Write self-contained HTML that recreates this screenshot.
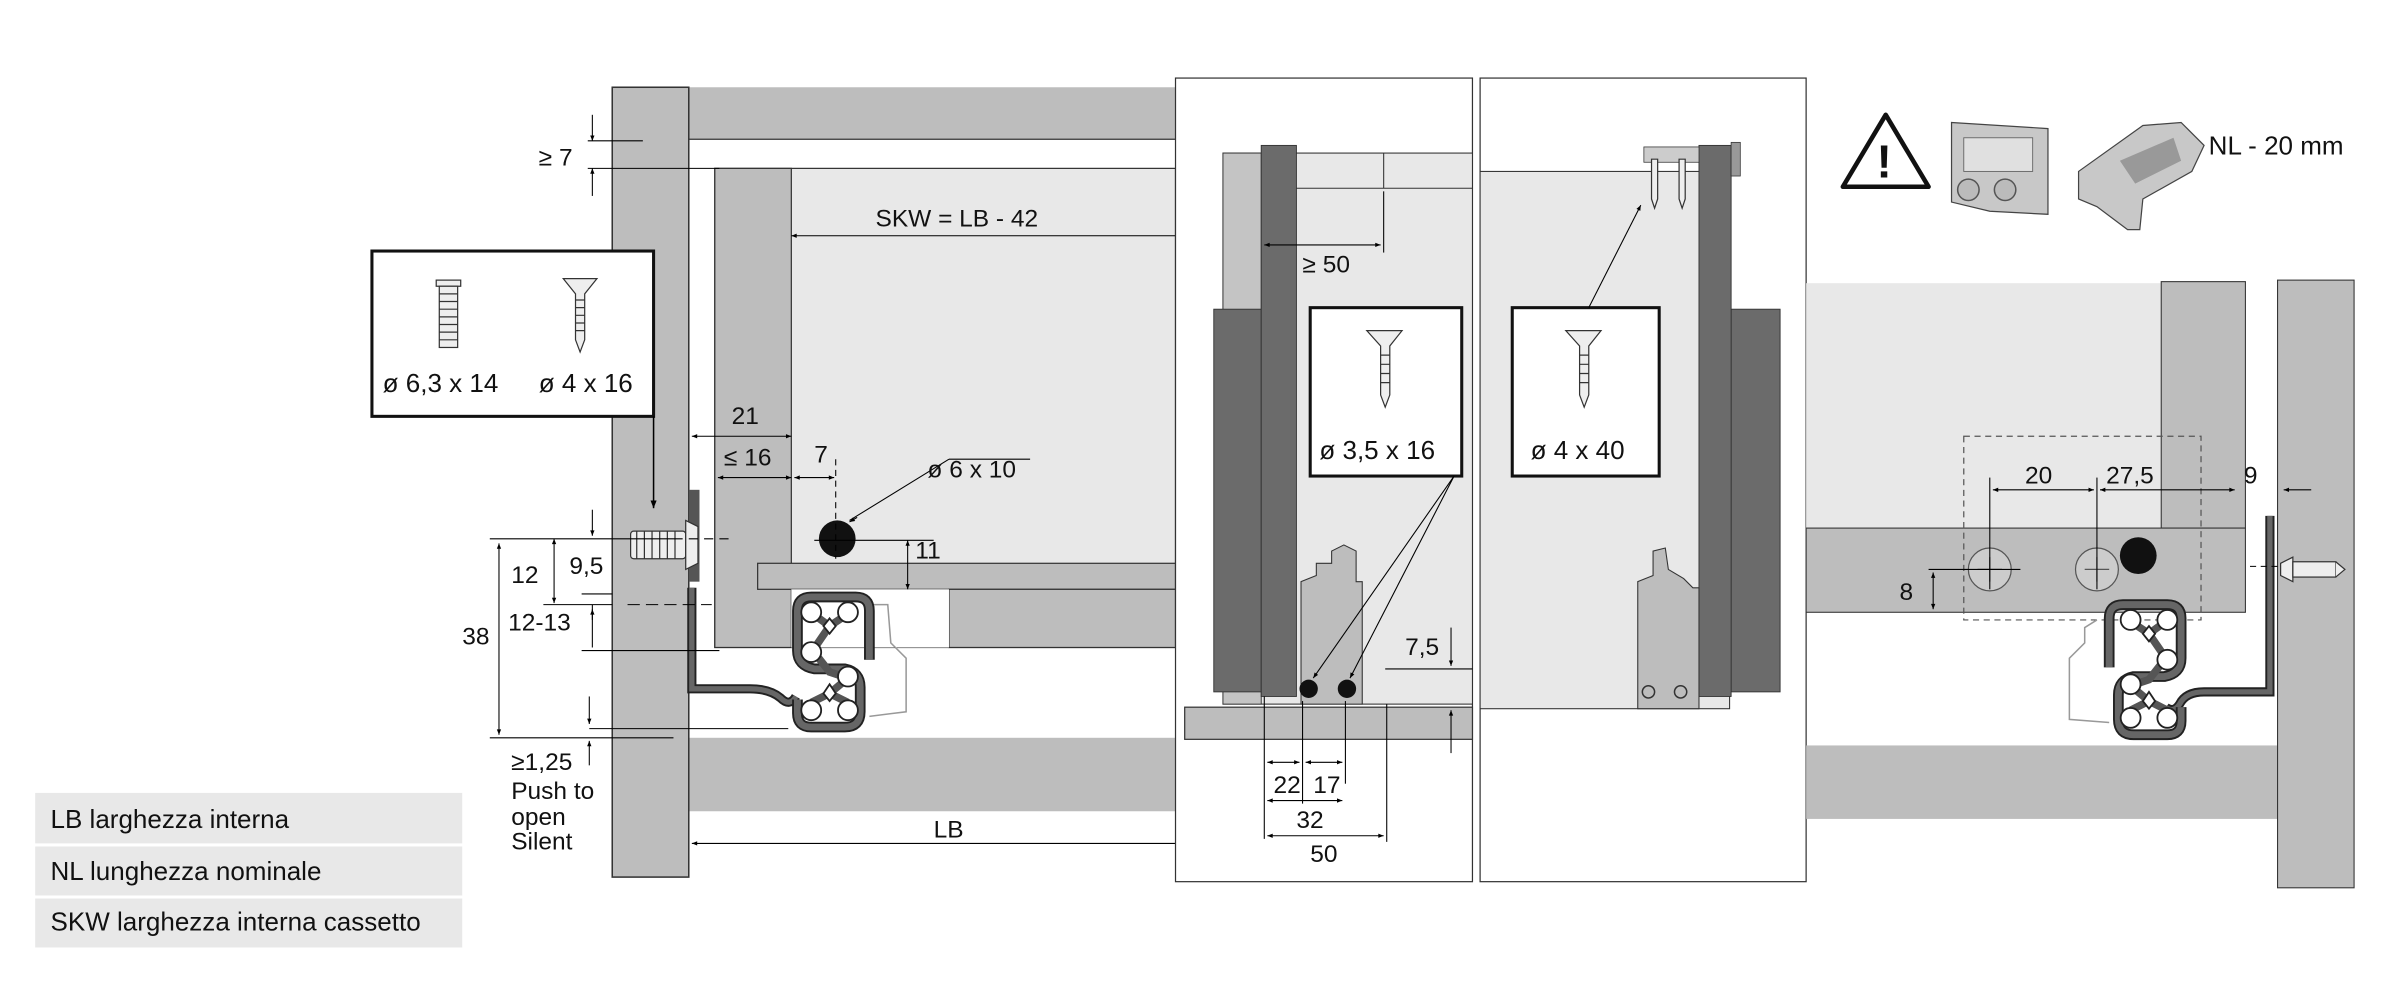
<!DOCTYPE html>
<html><head><meta charset="utf-8"><style>
html,body{margin:0;padding:0;background:#fff;width:2400px;height:1000px;overflow:hidden}
svg{display:block}
text{font-family:"Liberation Sans Narrow","Liberation Sans",sans-serif;fill:#111}
</style></head><body>
<svg width="2400" height="1000" viewBox="0 0 1568 653.3" preserveAspectRatio="none" xmlns="http://www.w3.org/2000/svg">
<defs>
<marker id="a" viewBox="0 0 10 10" refX="10" refY="5" markerWidth="7" markerHeight="5" orient="auto-start-reverse"><path d="M0,1 L10,5 L0,9 z" fill="#000"/></marker>
<g id="prof">
 <path d="M50,44 L50,12 Q50,3 41,3 L12,3 Q3,3 3,12 L3,38 Q3,48 14,50 L34,50 Q44,52 44,62 L44,78 Q44,88 34,88 L12,88 Q3,88 3,79 L3,70" fill="none" stroke="#222" stroke-width="7"/>
 <path d="M50,44 L50,12 Q50,3 41,3 L12,3 Q3,3 3,12 L3,38 Q3,48 14,50 L34,50 Q44,52 44,62 L44,78 Q44,88 34,88 L12,88 Q3,88 3,79 L3,70" fill="none" stroke="#666" stroke-width="4.5"/>
 <path d="M13,14 L24,22 L36,14 M24,22 L13,38 L24,52 L36,56 L24,66 L12,72 M24,66 L36,72" fill="none" stroke="#555" stroke-width="5"/>
 <g fill="#fff" stroke="#222" stroke-width="1.2">
  <circle cx="12" cy="13" r="6.5"/><circle cx="36" cy="13" r="6.5"/><circle cx="12" cy="39" r="6.5"/><circle cx="36" cy="55" r="6.5"/><circle cx="12" cy="77" r="6.5"/><circle cx="36" cy="77" r="6.5"/>
  <path d="M24,17 L28,22 L24,27 L20,22 z"/><path d="M24,60 L28,66 L24,71 L20,66 z"/>
 </g>
</g>
</defs>

<!-- ===== LEFT SCENE ===== -->
<rect x="450" y="57" width="318" height="34" fill="#bdbdbd"/>
<line x1="450" y1="91" x2="768" y2="91" stroke="#333" stroke-width="0.8"/>
<rect x="467" y="110" width="301" height="313" fill="#e8e8e8" stroke="#333" stroke-width="0.8"/>
<rect x="467" y="110" width="50" height="313" fill="#bdbdbd" stroke="#333" stroke-width="0.8"/>
<rect x="495" y="368" width="273" height="17" fill="#bdbdbd" stroke="#333" stroke-width="0.8"/>
<rect x="620" y="385" width="148" height="38" fill="#bdbdbd" stroke="#333" stroke-width="0.8"/>
<rect x="517" y="385" width="103" height="38" fill="#fff"/>
<rect x="450" y="482" width="318" height="48" fill="#bdbdbd"/>
<rect x="400" y="57" width="50" height="516" fill="#bdbdbd" stroke="#333" stroke-width="1"/>
<!-- runner left -->
<path d="M452,384 L452,450 L490,450 Q503,450 510,456 Q516,462 520,455" fill="none" stroke="#222" stroke-width="6"/>
<path d="M452,384 L452,450 L490,450 Q503,450 510,456 Q516,462 520,455" fill="none" stroke="#666" stroke-width="3.5"/>
<rect x="450" y="320" width="7" height="60" fill="#555"/>
<path d="M570,395 L580,395 L582,420 L592,430 L592,465 L568,468" fill="none" stroke="#999" stroke-width="1"/>
<use href="#prof" transform="translate(518,387)"/>
<!-- screw horizontal -->
<g stroke="#333" stroke-width="0.8" fill="#eee">
<rect x="412" y="347" width="36" height="18" rx="2"/>
<path d="M448,340 L456,344 L456,368 L448,372 z"/>
<path d="M416,347 L416,365 M421,347 L421,365 M426,347 L426,365 M431,347 L431,365 M436,347 L436,365 M441,347 L441,365" fill="none"/>
</g>
<circle cx="547" cy="352" r="12" fill="#111"/>
<!-- screw box left -->
<rect x="243" y="164" width="184" height="108" fill="#fff" stroke="#111" stroke-width="2"/>
<g stroke="#333" stroke-width="0.8" fill="#eee">
<rect x="285" y="183" width="16" height="4"/><rect x="287" y="187" width="12" height="40"/>
<path d="M287,192 H299 M287,197 H299 M287,202 H299 M287,207 H299 M287,212 H299 M287,217 H299 M287,222 H299" fill="none"/>
<path d="M368,182 L390,182 L382,192 L382,222 L379,230 L376,222 L376,192 z"/>
<path d="M376,196 H382 M376,201 H382 M376,206 H382 M376,211 H382 M376,216 H382" fill="none"/>
</g>
<text x="250" y="256" font-size="17">ø 6,3 x 14</text>
<text x="352" y="256" font-size="17">ø 4 x 16</text>
<line x1="427" y1="272" x2="427" y2="332" stroke="#000" stroke-width="1" marker-end="url(#a)"/>

<!-- dims left -->
<g stroke="#000" stroke-width="0.7" fill="none">
<line x1="384" y1="92" x2="420" y2="92"/><line x1="384" y1="110" x2="470" y2="110"/>
<line x1="387" y1="75" x2="387" y2="92" marker-end="url(#a)"/><line x1="387" y1="128" x2="387" y2="110" marker-end="url(#a)"/>
<line x1="768" y1="154" x2="517" y2="154" marker-end="url(#a)"/>
<line x1="452" y1="285" x2="517" y2="285" marker-start="url(#a)" marker-end="url(#a)"/>
<line x1="469" y1="312" x2="517" y2="312" marker-start="url(#a)" marker-end="url(#a)"/>
<line x1="519" y1="312" x2="545" y2="312" marker-start="url(#a)" marker-end="url(#a)"/>
<line x1="546" y1="300" x2="546" y2="365" stroke-dasharray="4,3"/>
<line x1="555" y1="340" x2="620" y2="300"/><line x1="620" y1="300" x2="673" y2="300"/>
<line x1="560" y1="338" x2="555" y2="341" marker-end="url(#a)"/>
<line x1="532" y1="353" x2="610" y2="353"/>
<line x1="593" y1="353" x2="593" y2="385" marker-start="url(#a)" marker-end="url(#a)"/>
<line x1="320" y1="352" x2="440" y2="352"/><line x1="440" y1="352" x2="480" y2="352" stroke-dasharray="6,4"/>
<line x1="326" y1="355" x2="326" y2="480" marker-start="url(#a)" marker-end="url(#a)"/>
<line x1="320" y1="482" x2="440" y2="482"/>
<line x1="362" y1="352" x2="362" y2="394" marker-start="url(#a)" marker-end="url(#a)"/>
<line x1="355" y1="395" x2="400" y2="395"/><line x1="410" y1="395" x2="465" y2="395" stroke-dasharray="8,4"/>
<line x1="387" y1="333" x2="387" y2="350" marker-end="url(#a)"/>
<line x1="387" y1="405" x2="387" y2="398" marker-end="url(#a)"/>
<line x1="380" y1="388" x2="400" y2="388"/>
<line x1="380" y1="425" x2="470" y2="425"/>
<line x1="387" y1="395" x2="387" y2="423"/>
<line x1="385" y1="455" x2="385" y2="473" marker-end="url(#a)"/>
<line x1="385" y1="476" x2="515" y2="476"/>
<line x1="385" y1="500" x2="385" y2="484" marker-end="url(#a)"/>
<line x1="768" y1="551" x2="452" y2="551" marker-end="url(#a)"/>
</g>
<g font-size="16">
<text x="352" y="108">≥ 7</text>
<text x="572" y="148">SKW = LB - 42</text>
<text x="478" y="277">21</text>
<text x="473" y="304">≤ 16</text>
<text x="532" y="302">7</text>
<text x="606" y="312">ø 6 x 10</text>
<text x="598" y="365">11</text>
<text x="334" y="381">12</text>
<text x="372" y="375">9,5</text>
<text x="332" y="412">12-13</text>
<text x="302" y="421">38</text>
<text x="334" y="503">≥1,25</text>
<text x="334" y="522">Push to</text>
<text x="334" y="539">open</text>
<text x="334" y="555">Silent</text>
<text x="610" y="547">LB</text>
</g>
<!-- legend -->
<rect x="23" y="518" width="279" height="33" fill="#e8e8e8"/>
<rect x="23" y="553" width="279" height="32" fill="#e8e8e8"/>
<rect x="23" y="587" width="279" height="32" fill="#e8e8e8"/>
<g font-size="17"><text x="33" y="541">LB larghezza interna</text><text x="33" y="575">NL lunghezza nominale</text><text x="33" y="608">SKW larghezza interna cassetto</text></g>

<!-- ===== PANEL 1 ===== -->
<rect x="768" y="51" width="194" height="525" fill="#fff" stroke="#333" stroke-width="0.8"/>
<rect x="799" y="100" width="163" height="360" fill="#e8e8e8" stroke="#333" stroke-width="0.7"/>
<rect x="799" y="100" width="25" height="360" fill="#c4c4c4" stroke="#333" stroke-width="0.6"/>
<line x1="847" y1="123" x2="962" y2="123" stroke="#333" stroke-width="0.7"/>
<line x1="904" y1="100" x2="904" y2="123" stroke="#333" stroke-width="0.7"/>
<rect x="793" y="202" width="31" height="250" fill="#6b6b6b" stroke="#333" stroke-width="0.6"/>
<rect x="824" y="95" width="23" height="360" fill="#6b6b6b" stroke="#333" stroke-width="0.6"/>
<path d="M850,460 L850,380 L860,376 L860,368 L870,368 L870,360 L878,356 L886,360 L886,380 L890,380 L890,460 z" fill="#bdbdbd" stroke="#333" stroke-width="0.7"/>
<rect x="774" y="462" width="188" height="21" fill="#bdbdbd" stroke="#333" stroke-width="0.8"/>
<rect x="856" y="201" width="99" height="110" fill="#fff" stroke="#111" stroke-width="2"/>
<g stroke="#333" stroke-width="0.8" fill="#eee"><path d="M893,216 L916,216 L908,226 L908,258 L905,266 L902,258 L902,226 z"/><path d="M902,232 H908 M902,238 H908 M902,244 H908 M902,250 H908" fill="none"/></g>
<text x="862" y="300" font-size="17">ø 3,5 x 16</text>
<circle cx="855" cy="450" r="6" fill="#111"/><circle cx="880" cy="450" r="6" fill="#111"/>
<g stroke="#000" stroke-width="0.7" fill="none">
<line x1="950" y1="311" x2="858" y2="443" marker-end="url(#a)"/>
<line x1="950" y1="311" x2="882" y2="443" marker-end="url(#a)"/>
<line x1="904" y1="125" x2="904" y2="165"/>
<line x1="826" y1="160" x2="902" y2="160" marker-start="url(#a)" marker-end="url(#a)"/>
<line x1="905" y1="437" x2="962" y2="437"/>
<line x1="948" y1="410" x2="948" y2="435" marker-end="url(#a)"/>
<line x1="948" y1="492" x2="948" y2="464" marker-end="url(#a)"/>
<line x1="826" y1="455" x2="826" y2="548"/><line x1="851" y1="458" x2="851" y2="525"/><line x1="879" y1="458" x2="879" y2="512"/><line x1="906" y1="460" x2="906" y2="550"/>
<line x1="828" y1="498" x2="849" y2="498" marker-start="url(#a)" marker-end="url(#a)"/>
<line x1="853" y1="498" x2="877" y2="498" marker-start="url(#a)" marker-end="url(#a)"/>
<line x1="828" y1="523" x2="877" y2="523" marker-start="url(#a)" marker-end="url(#a)"/>
<line x1="828" y1="546" x2="904" y2="546" marker-start="url(#a)" marker-end="url(#a)"/>
</g>
<g font-size="16"><text x="851" y="178">≥ 50</text><text x="918" y="428">7,5</text><text x="832" y="518">22</text><text x="858" y="518">17</text><text x="847" y="541">32</text><text x="856" y="563">50</text></g>

<!-- ===== PANEL 2 ===== -->
<rect x="967" y="51" width="213" height="525" fill="#fff" stroke="#333" stroke-width="0.8"/>
<rect x="967" y="112" width="163" height="351" fill="#e8e8e8" stroke="#333" stroke-width="0.7"/>
<rect x="1131" y="202" width="32" height="250" fill="#6b6b6b" stroke="#333" stroke-width="0.6"/>
<rect x="1110" y="95" width="21" height="360" fill="#6b6b6b" stroke="#333" stroke-width="0.6"/>
<rect x="1131" y="93" width="6" height="22" fill="#999" stroke="#333" stroke-width="0.5"/>
<rect x="1074" y="96" width="36" height="10" fill="#ccc" stroke="#333" stroke-width="0.5"/>
<g stroke="#333" stroke-width="0.8" fill="#eee"><path d="M1079,104 L1083,104 L1083,130 L1081,136 L1079,130 z"/><path d="M1097,104 L1101,104 L1101,130 L1099,136 L1097,130 z"/></g>
<path d="M1070,463 L1070,380 L1080,376 L1080,360 L1088,358 L1090,372 L1100,378 L1106,384 L1110,384 L1110,463 z" fill="#bdbdbd" stroke="#333" stroke-width="0.7"/>
<circle cx="1077" cy="452" r="4" fill="none" stroke="#333"/><circle cx="1098" cy="452" r="4" fill="none" stroke="#333"/>
<rect x="988" y="201" width="96" height="110" fill="#fff" stroke="#111" stroke-width="2"/>
<g stroke="#333" stroke-width="0.8" fill="#eee"><path d="M1023,216 L1046,216 L1038,226 L1038,258 L1035,266 L1032,258 L1032,226 z"/><path d="M1032,232 H1038 M1032,238 H1038 M1032,244 H1038 M1032,250 H1038" fill="none"/></g>
<text x="1000" y="300" font-size="17">ø 4 x 40</text>
<line x1="1038" y1="201" x2="1072" y2="134" stroke="#000" stroke-width="0.7" marker-end="url(#a)"/>

<!-- ===== RIGHT ===== -->
<path d="M1232,75 L1260,122 L1204,122 z" fill="#fff" stroke="#111" stroke-width="3" stroke-linejoin="round"/>
<text x="1226" y="116" font-size="30" font-weight="bold" style="font-family:'Liberation Sans',sans-serif">!</text>
<path d="M1275,80 L1338,84 L1338,140 L1300,138 L1275,132 z" fill="#c8c8c8" stroke="#444" stroke-width="0.8"/>
<rect x="1283" y="90" width="45" height="22" fill="#e0e0e0" stroke="#666" stroke-width="0.6"/>
<circle cx="1286" cy="124" r="7" fill="#bbb" stroke="#555"/><circle cx="1310" cy="124" r="7" fill="#bbb" stroke="#555"/>
<path d="M1358,112 L1400,82 L1425,80 L1440,95 L1432,112 L1400,130 L1398,150 L1390,150 L1370,135 L1358,130 z" fill="#c8c8c8" stroke="#444" stroke-width="0.8"/>
<path d="M1385,105 L1420,90 L1425,105 L1395,120 z" fill="#999"/>
<text x="1443" y="101" font-size="17">NL - 20 mm</text>

<rect x="1180" y="185" width="232" height="160" fill="#e8e8e8"/>
<rect x="1412" y="184" width="55" height="161" fill="#bdbdbd" stroke="#333" stroke-width="0.7"/>
<rect x="1180" y="345" width="287" height="55" fill="#bdbdbd" stroke="#333" stroke-width="0.7"/>
<rect x="1180" y="487" width="308" height="48" fill="#bdbdbd"/>
<rect x="1488" y="183" width="50" height="397" fill="#bdbdbd" stroke="#333" stroke-width="0.7"/>
<rect x="1283" y="285" width="155" height="120" fill="none" stroke="#555" stroke-width="0.8" stroke-dasharray="4,3"/>
<g fill="#ccc" stroke="#555" stroke-width="0.8"><circle cx="1300" cy="372" r="14"/><circle cx="1370" cy="372" r="14"/></g>
<g stroke="#555" stroke-width="0.8"><path d="M1292,372 H1308 M1300,364 V380 M1362,372 H1378 M1370,364 V380"/></g>
<circle cx="1397" cy="363" r="12" fill="#111"/>
<path d="M1483,337 L1483,452 L1440,452 Q1428,452 1424,460 Q1420,466 1415,462" fill="none" stroke="#222" stroke-width="6"/>
<path d="M1483,337 L1483,452 L1440,452 Q1428,452 1424,460 Q1420,466 1415,462" fill="none" stroke="#666" stroke-width="3.5"/>
<use href="#prof" transform="translate(1428,392) scale(-1,1)"/>
<path d="M1370,405 L1362,410 L1362,420 L1352,430 L1352,470 L1378,472" fill="none" stroke="#999" stroke-width="1"/>
<g stroke="#333" stroke-width="0.8" fill="#eee"><path d="M1490,368 L1498,364 L1498,380 L1490,376 z"/><rect x="1498" y="367" width="28" height="10"/><path d="M1526,367 L1532,372 L1526,377"/></g>
<g stroke="#000" stroke-width="0.7" fill="none">
<line x1="1300" y1="312" x2="1300" y2="385"/><line x1="1370" y1="312" x2="1370" y2="385"/>
<line x1="1302" y1="320" x2="1368" y2="320" marker-start="url(#a)" marker-end="url(#a)"/>
<line x1="1372" y1="320" x2="1460" y2="320" marker-start="url(#a)" marker-end="url(#a)"/>
<line x1="1510" y1="320" x2="1492" y2="320" marker-end="url(#a)"/>
<line x1="1260" y1="372" x2="1320" y2="372"/><line x1="1470" y1="370" x2="1488" y2="370" stroke-dasharray="4,3"/>
<line x1="1263" y1="374" x2="1263" y2="398" marker-start="url(#a)" marker-end="url(#a)"/>
</g>
<g font-size="16"><text x="1323" y="316">20</text><text x="1376" y="316">27,5</text><text x="1466" y="316">9</text><text x="1241" y="392">8</text></g>
</svg>
</body></html>
